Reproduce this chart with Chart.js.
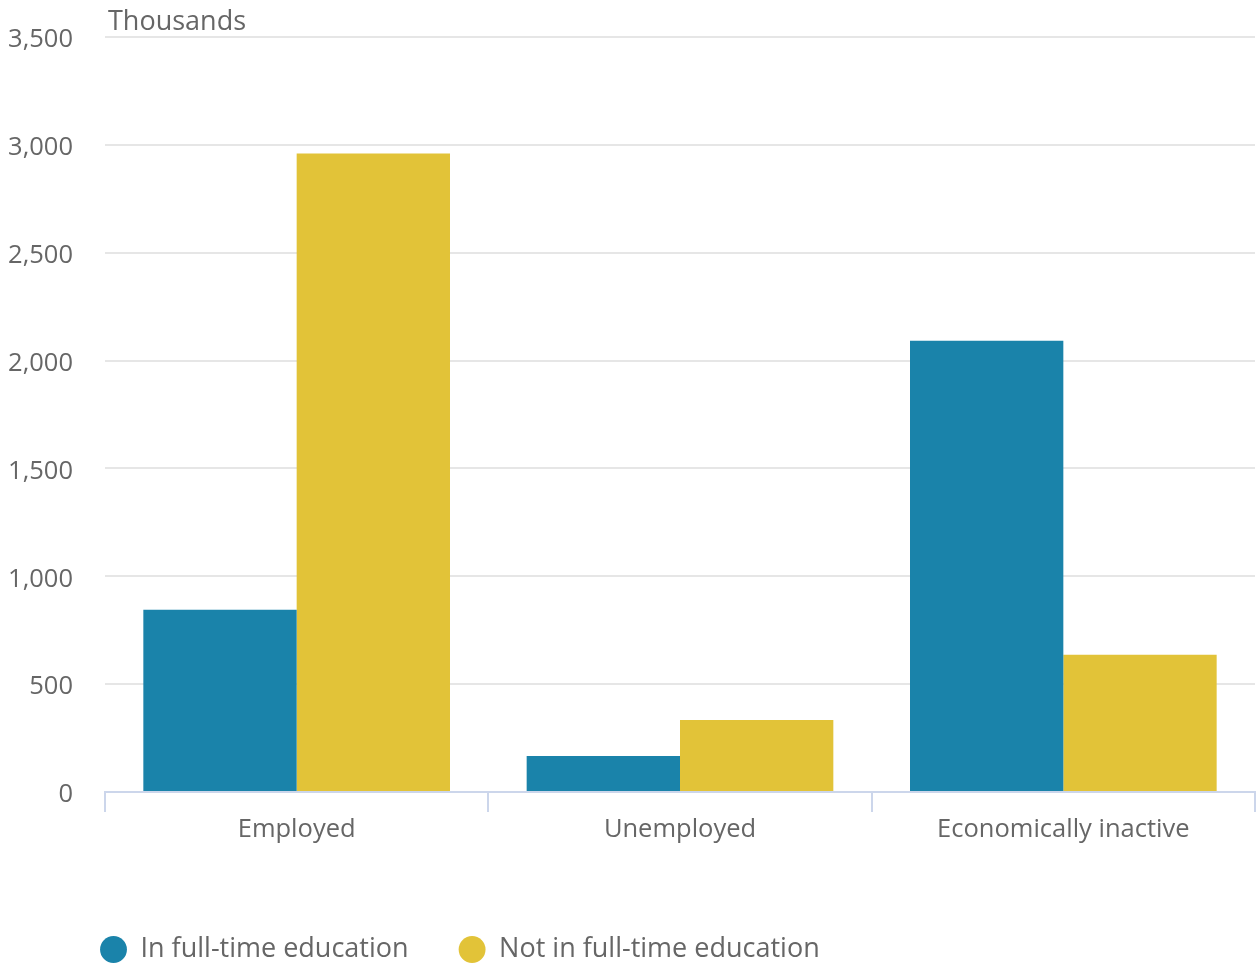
<!DOCTYPE html>
<html>
<head>
<meta charset="utf-8">
<script src="https://cdn.jsdelivr.net/npm/chart.js@4/dist/chart.umd.min.js"></script>
<style>
html,body{margin:0;padding:0;background:#fff;}
#wrap{width:1257px;height:964px;position:relative;}
</style>
</head>
<body>
<div id="wrap"><canvas id="c" width="1257" height="964"></canvas></div>
<script>
const categories = ["Employed", "Unemployed", "Economically inactive"];
const seriesNames = ["In full-time education", "Not in full-time education"];
const inFullTime = [845, 167, 2092];
const notInFullTime = [2960, 334, 636];
const yTicks = [0, 500, 1000, 1500, 2000, 2500, 3000, 3500];
const unitLabel = "Thousands";

const FONT = "'Open Sans', sans-serif";
const TICK_FS = 25.5;
const BIG_FS = 27;

const unitPlugin = {
  id: 'unitLabel',
  afterDraw(chart) {
    const ctx = chart.ctx;
    ctx.save();
    ctx.font = BIG_FS + "px " + FONT;
    ctx.fillStyle = "#666666";
    ctx.textAlign = "left";
    ctx.textBaseline = "middle";
    ctx.fillText(unitLabel, chart.chartArea.left + 3, 22);
    ctx.restore();
  }
};

const legendShift = {
  id: 'legendShift',
  afterLayout(chart) {
    const lg = chart.legend;
    if (!lg) return;
    const dx = 50, dy = 9;
    lg.left += dx; lg.right += dx;
    lg.top += dy; lg.bottom += dy;
  }
};

new Chart(document.getElementById('c'), {
  type: 'bar',
  data: {
    labels: categories,
    datasets: [
      { label: seriesNames[0], data: inFullTime, backgroundColor: '#1a83aa', borderColor: '#1a83aa', borderWidth: 0 },
      { label: seriesNames[1], data: notInFullTime, backgroundColor: '#e2c338', borderColor: '#e2c338', borderWidth: 0 }
    ]
  },
  options: {
    responsive: false,
    animation: false,
    layout: { padding: { top: 37, right: 2, left: 0, bottom: 0 } },
    datasets: { bar: { barPercentage: 1.0, categoryPercentage: 0.8 } },
    scales: {
      x: {
        offset: true,
        afterFit(scale) { scale.height = 85; },
        grid: { display: true, offset: true, drawOnChartArea: false, drawTicks: true, tickLength: 20, color: '#ccd6eb', lineWidth: 2 },
        border: { display: true, color: '#ccd6eb', width: 2 },
        ticks: { color: '#666666', font: { family: FONT, size: TICK_FS }, padding: 2 }
      },
      y: {
        min: 0, max: 3500,
        afterBuildTicks(axis) { axis.ticks = yTicks.map(v => ({ value: v })); },
        afterFit(scale) { scale.width = 105; scale.paddingTop = 0; scale.paddingBottom = 0; },
        grid: { color: '#e6e6e6', lineWidth: 2, drawTicks: false },
        border: { display: false },
        ticks: {
          color: '#666666', font: { family: FONT, size: TICK_FS }, padding: 32, labelOffset: 3,
          callback: v => v.toLocaleString('en-US')
        }
      }
    },
    plugins: {
      tooltip: { enabled: false },
      legend: {
        position: 'bottom',
        align: 'start',
        labels: {
          color: '#666666',
          font: { family: FONT, size: BIG_FS },
          usePointStyle: true,
          pointStyle: 'circle',
          boxWidth: 27,
          boxHeight: 19,
          padding: 50
        }
      }
    }
  },
  plugins: [unitPlugin, legendShift]
});
</script>
</body>
</html>
